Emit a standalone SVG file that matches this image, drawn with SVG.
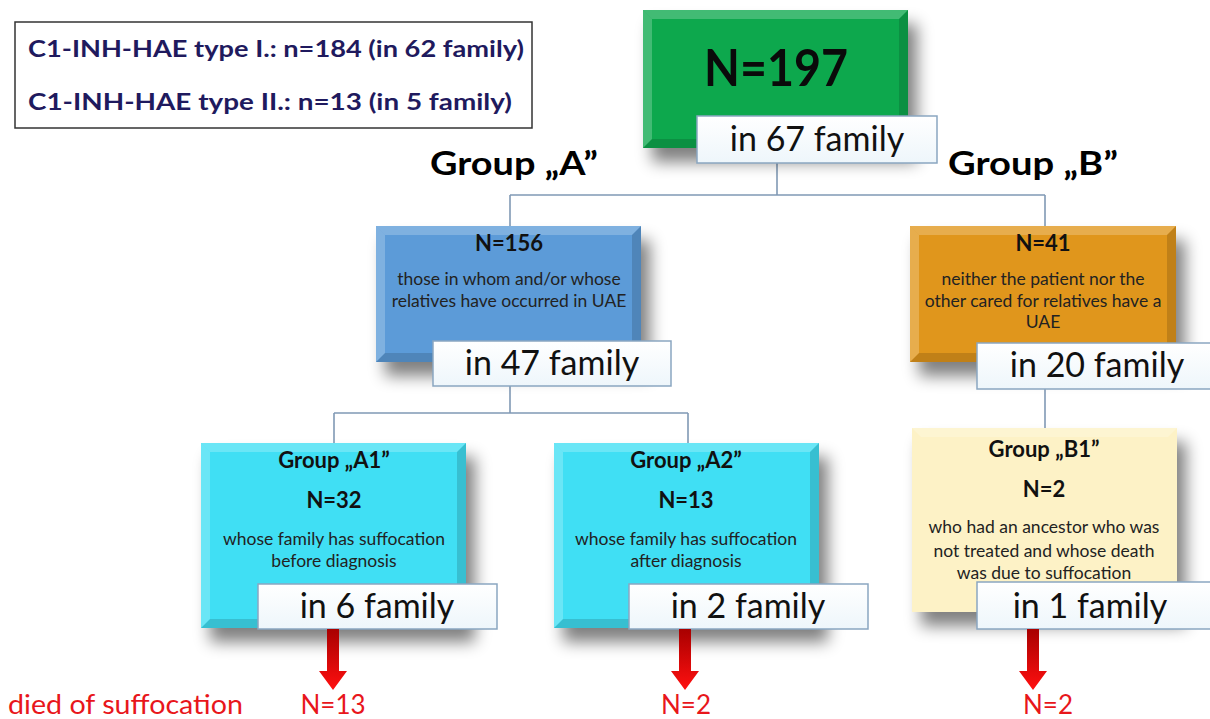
<svg xmlns="http://www.w3.org/2000/svg" width="1210" height="719" viewBox="0 0 1210 719">
<defs>
<filter id="sh" x="-20%" y="-20%" width="160%" height="170%">
<feGaussianBlur in="SourceAlpha" stdDeviation="8"/>
<feOffset dx="9" dy="14" result="b"/>
<feComponentTransfer><feFuncA type="linear" slope="0.5"/></feComponentTransfer>
<feMerge><feMergeNode/><feMergeNode in="SourceGraphic"/></feMerge>
</filter>
<linearGradient id="lbl" x1="0" y1="0" x2="0" y2="1">
<stop offset="0" stop-color="#ffffff"/><stop offset="1" stop-color="#eef6fb"/>
</linearGradient>
<linearGradient id="red" x1="0" y1="0" x2="0" y2="1">
<stop offset="0" stop-color="#a80000"/><stop offset="1" stop-color="#ff1010"/>
</linearGradient>
<style>
text{font-family:Lato,"Open Sans","Liberation Sans",sans-serif}
.leg{font-size:23px;font-weight:bold;fill:#1f1a5e}
.grp{font-size:33px;font-weight:bold;fill:#000}
.h{font-size:22px;font-weight:bold;fill:#111;text-anchor:middle}
.d{font-size:17.5px;fill:#222;text-anchor:middle}
.fam{font-size:34px;fill:#111;text-anchor:middle}
.lbl{fill:url(#lbl);stroke:#8aa6c1;stroke-width:1.5}
.con{fill:none;stroke:#8099b5;stroke-width:1.6}
.red{font-size:26px;fill:#e8161b}
.hi{fill:#fff;opacity:0.22}
.lo{fill:#000;opacity:0.14}
</style>
</defs>
<rect width="1210" height="719" fill="#fff"/>

<g id="legend">
<rect x="15" y="22" width="517" height="106" fill="#fff" stroke="#333" stroke-width="1.5"/>
<text class="leg" x="28" y="57" textLength="496" lengthAdjust="spacingAndGlyphs">C1-INH-HAE type I.: n=184 (in 62 family)</text>
<text class="leg" x="28" y="110" textLength="484" lengthAdjust="spacingAndGlyphs">C1-INH-HAE type II.: n=13 (in 5 family)</text>
</g>

<g id="connectors">
<path class="con" d="M777 163 V195 M510 195 H1045 M510 195 V226 M1045 195 V226"/>
<path class="con" d="M510 386 V413 M334 413 H688 M334 413 V443 M688 413 V443"/>
<path class="con" d="M1045 389 V428"/>
</g>

<g id="group-a-label"><text class="grp" x="430" y="175" textLength="168" lengthAdjust="spacingAndGlyphs">Group „A”</text></g>
<g id="group-b-label"><text class="grp" x="948" y="175" textLength="170" lengthAdjust="spacingAndGlyphs">Group „B”</text></g>

<g id="root">
<g filter="url(#sh)">
<rect x="643" y="10" width="265" height="138" fill="#0aa84e"/>
</g>
<polygon class="hi" points="643,10 908,10 899,19 652,19"/>
<polygon class="lo" points="643,148 908,148 899,139 652,139"/>
<polygon class="hi" points="643,10 652,19 652,139 643,148"/>
<polygon class="lo" points="908,10 899,19 899,139 908,148"/>
<text x="776" y="86" text-anchor="middle" textLength="144" lengthAdjust="spacingAndGlyphs" style="font-size:52px;font-weight:bold;fill:#0a0a0a">N=197</text>
<rect class="lbl" x="697" y="116" width="240" height="47"/>
<text class="fam" x="817" y="151">in 67 family</text>
</g>

<g id="node-a">
<g filter="url(#sh)"><rect x="376" y="226" width="265" height="136" fill="#5b9bd8"/></g>
<polygon class="hi" points="376,226 641,226 632,235 385,235"/>
<polygon class="lo" points="376,362 641,362 632,353 385,353"/>
<polygon class="hi" points="376,226 385,235 385,353 376,362"/>
<polygon class="lo" points="641,226 632,235 632,353 641,362"/>
<text class="h" x="509" y="251">N=156</text>
<text class="d" x="509" y="285">those in whom and/or whose</text>
<text class="d" x="509" y="307">relatives have occurred in UAE</text>
<rect class="lbl" x="433" y="341" width="238" height="45"/>
<text class="fam" x="552" y="375">in 47 family</text>
</g>

<g id="node-b">
<g filter="url(#sh)"><rect x="910" y="226" width="266" height="136" fill="#e0961c"/></g>
<polygon class="hi" points="910,226 1176,226 1167,235 919,235"/>
<polygon class="lo" points="910,362 1176,362 1167,353 919,353"/>
<polygon class="hi" points="910,226 919,235 919,353 910,362"/>
<polygon class="lo" points="1176,226 1167,235 1167,353 1176,362"/>
<text class="h" x="1043" y="251">N=41</text>
<text class="d" x="1043" y="285">neither the patient nor the</text>
<text class="d" x="1043" y="307">other cared for relatives have a</text>
<text class="d" x="1043" y="328">UAE</text>
<rect class="lbl" x="977" y="343" width="240" height="46"/>
<text class="fam" x="1097" y="377">in 20 family</text>
</g>

<g id="node-a1">
<g filter="url(#sh)"><rect x="201" y="443" width="265" height="185" fill="#3fdff4"/></g>
<polygon class="hi" points="201,443 466,443 457,452 210,452"/>
<polygon class="lo" points="201,628 466,628 457,619 210,619"/>
<polygon class="hi" points="201,443 210,452 210,619 201,628"/>
<polygon class="lo" points="466,443 457,452 457,619 466,628"/>
<text class="h" x="334" y="468">Group „A1”</text>
<text class="h" x="334" y="508">N=32</text>
<text class="d" x="334" y="545">whose family has suffocation</text>
<text class="d" x="334" y="567">before diagnosis</text>
<rect class="lbl" x="258" y="584" width="239" height="45"/>
<text class="fam" x="377" y="618">in 6 family</text>
</g>

<g id="node-a2">
<g filter="url(#sh)"><rect x="554" y="443" width="265" height="185" fill="#3fdff4"/></g>
<polygon class="hi" points="554,443 819,443 810,452 563,452"/>
<polygon class="lo" points="554,628 819,628 810,619 563,619"/>
<polygon class="hi" points="554,443 563,452 563,619 554,628"/>
<polygon class="lo" points="819,443 810,452 810,619 819,628"/>
<text class="h" x="686" y="468">Group „A2”</text>
<text class="h" x="686" y="508">N=13</text>
<text class="d" x="686" y="545">whose family has suffocation</text>
<text class="d" x="686" y="567">after diagnosis</text>
<rect class="lbl" x="629" y="584" width="239" height="45"/>
<text class="fam" x="748" y="618">in 2 family</text>
</g>

<g id="node-b1">
<g filter="url(#sh)"><rect x="912" y="428" width="265" height="184" fill="#fdf2c6"/></g>
<polygon class="hi" points="912,428 1177,428 1168,437 921,437"/>
<text class="h" x="1044" y="457">Group „B1”</text>
<text class="h" x="1044" y="497">N=2</text>
<text class="d" x="1044" y="533">who had an ancestor who was</text>
<text class="d" x="1044" y="557">not treated and whose death</text>
<text class="d" x="1044" y="579">was due to suffocation</text>
<rect class="lbl" x="977" y="582" width="240" height="47"/>
<text class="fam" x="1090" y="618">in 1 family</text>
</g>

<g id="outcomes">
<path fill="url(#red)" d="M327 629 H339 V671 H347 L333 690 L319 671 H327 Z"/>
<path fill="url(#red)" d="M679 629 H691 V671 H699 L685 690 L671 671 H679 Z"/>
<path fill="url(#red)" d="M1027 629 H1039 V671 H1047 L1033 690 L1019 671 H1027 Z"/>
<text class="red" x="8" y="714" textLength="235" lengthAdjust="spacingAndGlyphs">died of suffocation</text>
<text class="red" x="333" y="714" text-anchor="middle">N=13</text>
<text class="red" x="686" y="714" text-anchor="middle">N=2</text>
<text class="red" x="1048" y="714" text-anchor="middle">N=2</text>
</g>
</svg>
